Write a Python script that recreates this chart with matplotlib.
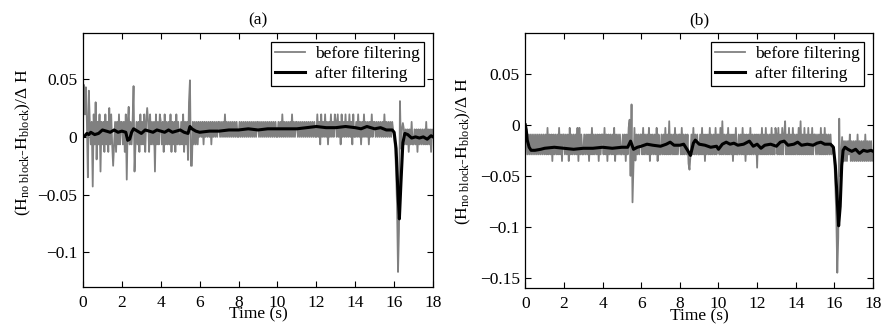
import numpy as np
import matplotlib
matplotlib.use('Agg')
import matplotlib.pyplot as plt

plt.rcParams['font.family'] = ['Liberation Serif', 'DejaVu Serif']
plt.rcParams['mathtext.fontset'] = 'custom'
plt.rcParams['mathtext.rm'] = 'Liberation Serif'
plt.rcParams['mathtext.it'] = 'Liberation Serif:italic'
plt.rcParams['font.size'] = 12.5

# raw signal, one sample every 0.05 s, written as quantisation level codes (4 = base level)
step = 0.0065
dt = 0.05

# panel (a): base level 0
base_a = 0.0
codes_a = ("63726316362736163726" "36273626373636263736" "63627368363627363627"
           "36372636273636273637" "63627363637263627363" "36372636363726363636"
           "46463646464636464646" "64646474646464646464" "46464646464646464646"
           "64646464646464646464" "46464746464646474646" "64646464646464646464"
           "47463746474636474647" "64746374647464746374" "46474636474646364746"
           "64646464647464646464" "44444444445353525363" "35352535353536353525"
           "4")
# big excursions of the raw signal in (a)
spike_t_a = [0.05, 0.15, 0.25, 0.3, 0.5, 0.65, 0.9, 1.35, 1.55, 2.25, 2.6, 2.65,
             3.3, 3.7, 5.4, 5.45, 5.5, 5.55, 5.6,
             15.95, 16.0, 16.05, 16.1, 16.15, 16.2, 16.25, 16.3, 16.35, 16.4, 16.45]
spike_v_a = [0.045, 0.043, -0.035, 0.04, -0.043, 0.03, -0.03, 0.025, -0.025, -0.037, 0.044, -0.03,
             0.025, -0.03, -0.02, 0.03, 0.049, -0.025, -0.025,
             0.006, 0.0, -0.01, -0.03, -0.06, -0.117, -0.08, 0.031, -0.01, 0.006, 0.012]

# filtered signal (a)
filt_t_a = [0, 0.1, 0.2, 0.3, 0.4, 0.5, 0.6, 0.8, 1.0, 1.2, 1.4, 1.6, 1.8, 2.0, 2.2, 2.3,
            2.4, 2.5, 2.6, 2.8, 3.0, 3.2, 3.4, 3.6, 3.8, 4.0, 4.2, 4.4, 4.6, 4.8, 5.0, 5.2,
            5.4, 5.5, 5.6, 5.8, 6.0, 6.5, 7.0, 7.5, 8.0, 8.5, 9.0, 9.5, 10.0, 10.5, 11.0,
            11.5, 12.0, 12.5, 13.0, 13.5, 14.0, 14.3, 14.6, 15.0, 15.3, 15.6, 15.9, 16.0,
            16.1, 16.2, 16.27, 16.35, 16.45, 16.55, 16.7, 16.9, 17.1, 17.3, 17.5, 17.7, 17.9, 18.0]
filt_v_a = [0.0, 0.001, 0.003, 0.002, 0.004, 0.003, 0.002, 0.003, 0.006, 0.005, 0.004, 0.006,
            0.004, 0.005, 0.004, -0.003, -0.002, 0.004, 0.007, 0.005, 0.003, 0.006, 0.005,
            0.004, 0.006, 0.005, 0.004, 0.006, 0.004, 0.005, 0.006, 0.004, 0.003, 0.009,
            0.007, 0.005, 0.004, 0.005, 0.005, 0.006, 0.006, 0.007, 0.006, 0.007, 0.007,
            0.007, 0.007, 0.008, 0.009, 0.008, 0.008, 0.009, 0.008, 0.007, 0.009, 0.007,
            0.008, 0.006, 0.006, 0.004, -0.01, -0.05, -0.071, -0.04, -0.005, 0.003, 0.002,
            -0.001, 0.0, -0.001, 0.0, -0.002, 0.001, 0.0]

# panel (b): base level -0.0225
base_b = -0.0225
codes_b = ("44363636363636363636" "36373636263636373626" "63636273636363727363"
           "36363626373636362636" "63736263636372636363" "36362637363636363636"
           "63736363726363637263" "36363736383636373636" "63736363626363736363"
           "36373626363736363736" "63738363637363626373" "36363736263637363636"
           "16363736373636373637" "63736373683637363736" "36373836373637363736"
           "63636373637363636363" "44444444445252536252" "52526252525262525252"
           "3")
spike_t_b = [0.0, 0.05, 5.35, 5.4, 5.45, 5.5, 5.55, 5.6, 5.65, 5.7, 8.45, 8.5, 8.55,
             15.9, 15.95, 16.0, 16.05, 16.1, 16.15, 16.2, 16.25, 16.3, 16.35, 16.4, 16.45]
spike_v_b = [0.0, -0.012, -0.003, 0.005, -0.05, 0.02, -0.076, -0.04, -0.003, -0.035, -0.038, -0.044, -0.03,
             -0.02, -0.025, -0.035, -0.06, -0.09, -0.145, -0.11, 0.006, -0.05, -0.03, -0.012, -0.036]

filt_t_b = [0, 0.05, 0.1, 0.2, 0.3, 0.5, 0.8, 1.0, 1.5, 2.0, 2.5, 3.0, 3.5, 4.0, 4.5, 5.0,
            5.3, 5.45, 5.6, 5.8, 6.0, 6.3, 6.6, 7.0, 7.3, 7.5, 7.7, 8.0, 8.2, 8.4, 8.55, 8.7,
            8.8, 9.0, 9.3, 9.6, 9.9, 10.0, 10.2, 10.4, 10.6, 10.8, 11.0, 11.3, 11.6, 11.8,
            12.0, 12.2, 12.4, 12.7, 13.0, 13.2, 13.4, 13.6, 13.9, 14.1, 14.3, 14.6, 14.9,
            15.1, 15.3, 15.5, 15.8, 15.95, 16.05, 16.15, 16.22, 16.3, 16.38, 16.45, 16.55,
            16.7, 16.9, 17.1, 17.3, 17.5, 17.7, 17.9, 18.0]
filt_v_b = [0.0, -0.005, -0.015, -0.022, -0.025, -0.025, -0.024, -0.023, -0.022, -0.023,
            -0.024, -0.023, -0.023, -0.022, -0.023, -0.022, -0.022, -0.016, -0.024, -0.022,
            -0.021, -0.019, -0.02, -0.021, -0.019, -0.017, -0.02, -0.02, -0.019, -0.025,
            -0.03, -0.018, -0.015, -0.019, -0.02, -0.022, -0.021, -0.024, -0.019, -0.017,
            -0.019, -0.018, -0.02, -0.019, -0.016, -0.021, -0.019, -0.023, -0.02, -0.019,
            -0.021, -0.017, -0.016, -0.02, -0.019, -0.017, -0.02, -0.019, -0.02, -0.018,
            -0.017, -0.019, -0.019, -0.022, -0.04, -0.075, -0.099, -0.08, -0.04, -0.025,
            -0.022, -0.024, -0.026, -0.024, -0.028, -0.025, -0.026, -0.025, -0.026]


def raw_signal(codes, base, sp_t, sp_v):
    vals = np.array([base + (int(c) - 4) * step for c in codes])
    for t, v in zip(sp_t, sp_v):
        vals[int(round(t / dt))] = v
    return np.arange(len(vals)) * dt, vals


fig = plt.figure(figsize=(8.83, 3.25), dpi=100)
ax_a = fig.add_axes([0.094, 0.117, 0.3964, 0.7815])
ax_b = fig.add_axes([0.5949, 0.1138, 0.3938, 0.7846])

panels = [
    (ax_a, '(a)', codes_a, base_a, spike_t_a, spike_v_a, filt_t_a, filt_v_a,
     (-0.13, 0.09), [-0.1, -0.05, 0, 0.05], ['\u22120.1', '\u22120.05', '0', '0.05'],
     -0.143, 0.57),
    (ax_b, '(b)', codes_b, base_b, spike_t_b, spike_v_b, filt_t_b, filt_v_b,
     (-0.16, 0.09), [-0.15, -0.1, -0.05, 0, 0.05],
     ['\u22120.15', '\u22120.1', '\u22120.05', '0', '0.05'],
     -0.15, 0.535),
]

for ax, title, codes, base, sp_t, sp_v, ft, fv, ylim, yt, ytl, ylx, yly in panels:
    t, raw = raw_signal(codes, base, sp_t, sp_v)
    ax.plot(t, raw, color='#808080', lw=1.3, label='before filtering')
    ax.plot(ft, fv, color='black', lw=2.2, label='after filtering')
    ax.set_xlim(0, 18)
    ax.set_ylim(*ylim)
    ax.set_xticks(range(0, 19, 2))
    ax.set_yticks(yt)
    ax.set_yticklabels(ytl)
    ax.tick_params(direction='in', top=True, right=True, length=4, width=0.8, pad=4)
    ax.tick_params(axis='x', pad=6)
    for s in ax.spines.values():
        s.set_linewidth(0.9)
    ax.set_title(title, fontsize=12.5, pad=6)
    ax.set_xlabel('Time (s)')
    ax.xaxis.set_label_coords(0.5, -0.078)
    ax.set_ylabel('(H$_{\\mathrm{no\\ block}}$-H$_{\\mathrm{block}}$)/\u0394 H')
    ax.yaxis.set_label_coords(ylx, yly)
    leg = ax.legend(loc='upper right', fancybox=False, edgecolor='black', framealpha=1,
                    handlelength=1.7, handletextpad=0.6, borderaxespad=0.5,
                    labelspacing=0.2, borderpad=0.25)
    leg.get_frame().set_linewidth(0.9)

fig.savefig('out.png', dpi=100)
